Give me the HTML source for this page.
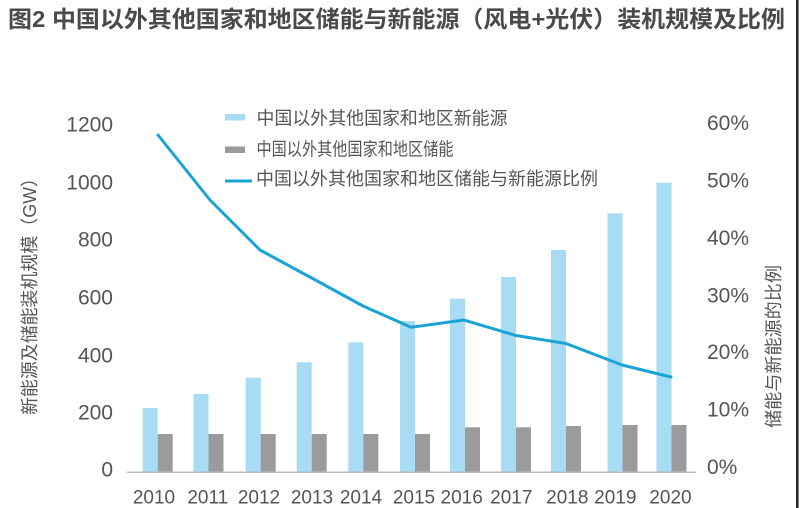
<!DOCTYPE html>
<html>
<head>
<meta charset="utf-8">
<style>
html,body{margin:0;padding:0;background:#fff;}
svg{display:block;}
text{font-family:"Liberation Sans","Noto Sans CJK SC",sans-serif;}
</style>
</head>
<body>
<svg width="800" height="508" viewBox="0 0 800 508" xmlns="http://www.w3.org/2000/svg">
<rect x="0" y="0" width="800" height="508" fill="#ffffff"/>
<!-- title -->
<text x="8" y="27" font-size="23" font-weight="bold" fill="#4a4a4a" textLength="777" lengthAdjust="spacingAndGlyphs">图2 中国以外其他国家和地区储能与新能源（风电+光伏）装机规模及比例</text>
<!-- right edge bar -->
<rect x="796" y="0" width="2.6" height="508" fill="#2a2a2a"/>

<!-- left axis labels -->
<g font-size="21" fill="#555" text-anchor="end">
<text x="113" y="131.7">1200</text>
<text x="113" y="189.3">1000</text>
<text x="113" y="246.7">800</text>
<text x="113" y="304.3">600</text>
<text x="113" y="362.7">400</text>
<text x="113" y="419.3">200</text>
<text x="113" y="476.7">0</text>
</g>
<!-- right axis labels -->
<g font-size="21" fill="#555">
<text x="707" y="130">60%</text>
<text x="707" y="187.3">50%</text>
<text x="707" y="245">40%</text>
<text x="707" y="302.3">30%</text>
<text x="707" y="359">20%</text>
<text x="707" y="416.7">10%</text>
<text x="707" y="474">0%</text>
</g>
<!-- axis titles -->
<text transform="translate(36,292) rotate(-90)" font-size="18" fill="#555" text-anchor="middle" textLength="246" lengthAdjust="spacingAndGlyphs">新能源及储能装机规模（GW）</text>
<text transform="translate(780,346.5) rotate(-90)" font-size="18" fill="#555" text-anchor="middle" textLength="163" lengthAdjust="spacingAndGlyphs">储能与新能源的比例</text>

<!-- light bars -->
<g fill="#a7dcf4">
<rect x="142.7" y="408" width="15" height="64"/>
<rect x="193.5" y="394" width="15" height="78"/>
<rect x="245.7" y="377.7" width="15" height="94.3"/>
<rect x="296.7" y="362.3" width="15" height="109.7"/>
<rect x="348.3" y="342.3" width="15" height="129.7"/>
<rect x="400" y="321" width="15" height="151"/>
<rect x="450" y="298.7" width="15" height="173.3"/>
<rect x="501" y="277" width="15" height="195"/>
<rect x="551" y="250" width="15" height="222"/>
<rect x="607.5" y="213.3" width="15" height="258.7"/>
<rect x="656.5" y="182.7" width="15" height="289.3"/>
</g>
<!-- gray bars -->
<g fill="#9b9b9d">
<rect x="157.7" y="434" width="15" height="38"/>
<rect x="208.5" y="434" width="15" height="38"/>
<rect x="260.7" y="434" width="15" height="38"/>
<rect x="311.7" y="434" width="15" height="38"/>
<rect x="363.3" y="434" width="15" height="38"/>
<rect x="415" y="434" width="15" height="38"/>
<rect x="465" y="427.3" width="15" height="44.7"/>
<rect x="516" y="427.3" width="15" height="44.7"/>
<rect x="566" y="426" width="15" height="46"/>
<rect x="622.5" y="425" width="15" height="47"/>
<rect x="671.5" y="425" width="15" height="47"/>
</g>
<!-- axis line -->
<line x1="127" y1="472.3" x2="696" y2="472.3" stroke="#bdbdbd" stroke-width="1.5"/>

<!-- ratio line -->
<polyline fill="none" stroke="#1aa3d5" stroke-width="3" stroke-linejoin="round" stroke-linecap="round"
points="158,135 210,200 260,250 311.7,278 363,306 411,327.3 464,320 516,335.5 566,343.5 622,365 671,377"/>

<!-- x labels -->
<g font-size="19" fill="#555" text-anchor="middle">
<text x="154" y="503.3">2010</text>
<text x="207.8" y="503.3">2011</text>
<text x="259" y="503.3">2012</text>
<text x="312" y="503.3">2013</text>
<text x="361" y="503.3">2014</text>
<text x="414" y="503.3">2015</text>
<text x="461.7" y="503.3">2016</text>
<text x="511.3" y="503.3">2017</text>
<text x="567.3" y="503.3">2018</text>
<text x="615.3" y="503.3">2019</text>
<text x="670.5" y="503.3">2020</text>
</g>

<!-- legend -->
<rect x="225" y="114" width="20" height="6.5" fill="#a7dcf4"/>
<text x="256.5" y="124.5" font-size="18" fill="#555" textLength="251" lengthAdjust="spacingAndGlyphs">中国以外其他国家和地区新能源</text>
<rect x="225" y="146.5" width="20" height="6.5" fill="#9b9b9d"/>
<text x="256.5" y="155.5" font-size="18" fill="#555" textLength="197" lengthAdjust="spacingAndGlyphs">中国以外其他国家和地区储能</text>
<line x1="225" y1="181" x2="252" y2="181" stroke="#1aa3d5" stroke-width="3"/>
<text x="256" y="185" font-size="18" fill="#555" textLength="342" lengthAdjust="spacingAndGlyphs">中国以外其他国家和地区储能与新能源比例</text>
</svg>
</body>
</html>
